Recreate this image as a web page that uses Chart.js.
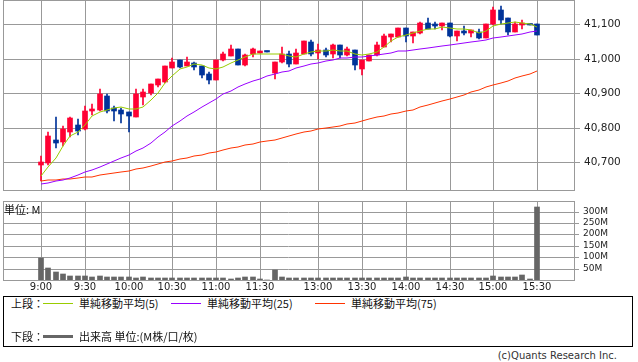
<!DOCTYPE html>
<html><head><meta charset="utf-8">
<script src="https://cdn.jsdelivr.net/npm/chart.js@4/dist/chart.umd.min.js"></script>
<style>
html,body{margin:0;padding:0;background:#fff;}
#wrap{position:relative;width:638px;height:362px;overflow:hidden;font-family:"Noto Sans CJK JP","DejaVu Sans",sans-serif;}
canvas{position:absolute;left:0;}
.t{position:absolute;white-space:nowrap;font-size:11px;line-height:12px;color:#111;}
.ln{position:absolute;height:1px;width:30px;}
</style></head><body>
<div id="wrap">
<canvas id="price" width="638" height="191" style="top:0"></canvas>
<canvas id="vol" width="638" height="95" style="top:200px"></canvas>
<div class="t" style="left:4px;top:203px">単位: M</div>
<div style="position:absolute;left:3px;top:296px;width:628px;height:49px;border:1px solid #000;"></div>
<div class="t" style="left:11px;top:297px">上段：</div>
<div class="ln" style="left:43px;top:303px;background:#99cc00"></div>
<div class="t" style="left:79px;top:297px">単純移動平均(5)</div>
<div class="ln" style="left:171px;top:303px;background:#9900ff"></div>
<div class="t" style="left:207px;top:297px">単純移動平均(25)</div>
<div class="ln" style="left:315px;top:303px;background:#ff3300"></div>
<div class="t" style="left:351px;top:297px">単純移動平均(75)</div>
<div class="t" style="left:11px;top:330px">下段：</div>
<div class="ln" style="left:43px;top:335px;height:3px;background:#666"></div>
<div class="t" style="left:79px;top:330px">出来高 単位:(M株/口/枚)</div>
<div class="t" style="right:21px;top:350px;font-family:'DejaVu Sans';font-size:10px;color:#333">(c)Quants Research Inc.</div>
</div>
<script>
const times = ['9:00','9:05','9:10','9:15','9:20','9:25','9:30','9:35','9:40','9:45','9:50','9:55','10:00','10:05','10:10','10:15','10:20','10:25','10:30','10:35','10:40','10:45','10:50','10:55','11:00','11:05','11:10','11:15','11:20','11:25','11:30','12:25','12:30','12:35','12:40','12:45','12:50','12:55','13:00','13:05','13:10','13:15','13:20','13:25','13:30','13:35','13:40','13:45','13:50','13:55','14:00','14:05','14:10','14:15','14:20','14:25','14:30','14:35','14:40','14:45','14:50','14:55','15:00','15:05','15:10','15:15','15:20','15:25','15:30'];
const xTickLabels = ['9:00','9:30','10:00','10:30','11:00','11:30','13:00','13:30','14:00','14:30','15:00','15:30'];
const priceTicks = [40700, 40800, 40900, 41000, 41100];
const volTicks = [50, 100, 150, 200, 250, 300];

const opens  = [40691,40698,40765,40758,40787,40809,40796,40848,40852,40892,40856,40852,40846,40831,40890,40902,40924,40934,40973,40995,40980,40988,40979,40956,40939,40996,41008,41027,40983,41013,41017,41022,40960,40990,41015,40986,41015,41048,41017,41025,41015,41039,41011,41025,40971,40994,41010,41035,41063,41063,41088,41065,41075,41102,41100,41094,41102,41065,41080,41075,41078,41060,41100,41140,41117,41077,41097,41100,41100];
const highs  = [40717,40789,40831,40806,40830,40826,40864,40869,40913,40898,40864,40857,40847,40913,40912,40928,40942,40980,41003,40997,41004,40991,40980,40962,40997,41019,41039,41028,41015,41031,41023,41022,40991,41035,41022,41028,41051,41054,41042,41030,41042,41040,41033,41026,40997,41011,41048,41071,41072,41089,41089,41078,41106,41119,41106,41103,41103,41081,41096,41084,41086,41101,41150,41152,41118,41106,41112,41101,41101];
const lows   = [40645,40693,40743,40746,40772,40780,40795,40836,40850,40842,40821,40814,40787,40830,40866,40895,40917,40929,40972,40973,40979,40967,40945,40928,40938,40994,41007,40982,40979,41004,41016,41019,40942,40989,40977,40985,41014,41008,40998,41004,41001,41003,41008,40967,40953,40993,41009,41034,41049,41062,41049,41046,41071,41085,41086,41083,41064,41052,41069,41063,41058,41059,41099,41100,41068,41076,41085,41097,41068];
const closes = [40701,40775,40757,40797,40829,40791,40849,40854,40898,40849,40850,40841,40833,40898,40904,40927,40941,40979,40990,40977,40990,40977,40954,40939,40996,41013,41027,40983,41010,41027,41022,41019,40990,41015,40986,41017,41050,41015,41025,41011,41039,41011,41027,40983,40996,41010,41039,41065,41071,41088,41065,41077,41102,41086,41096,41102,41065,41080,41075,41083,41060,41100,41140,41113,41077,41100,41104,41098,41069];
const ma5  = [40660,40688,40713,40746,40775,40789,40809,40833,40847,40852,40856,40859,40854,40854,40860,40881,40900,40929,40950,40969,40977,40984,40981,40972,40971,40977,40987,40996,41004,41013,41015,41015,41015,41015,41008,41006,41015,41020,41023,41023,41025,41022,41022,41015,41011,41013,41020,41035,41052,41063,41070,41075,41080,41085,41086,41092,41089,41087,41085,41083,41075,41081,41094,41100,41104,41107,41104,41100,41092];
const ma25 = [40636,40641,40645,40650,40655,40663,40671,40679,40688,40696,40704,40713,40722,40732,40743,40756,40774,40789,40806,40821,40835,40847,40860,40871,40883,40897,40908,40917,40927,40936,40942,40949,40956,40961,40965,40972,40979,40985,40988,40992,40996,41001,41003,41004,41006,41008,41010,41013,41017,41021,41023,41025,41029,41032,41035,41037,41040,41043,41046,41049,41052,41055,41060,41063,41067,41069,41072,41076,41079];
const ma75 = [40647,40648,40649,40651,40653,40655,40657,40659,40662,40665,40668,40671,40675,40680,40685,40690,40695,40700,40705,40709,40713,40718,40722,40727,40731,40736,40741,40745,40750,40754,40758,40762,40766,40771,40776,40782,40788,40792,40796,40799,40802,40806,40811,40815,40820,40825,40830,40834,40839,40843,40848,40853,40859,40866,40872,40878,40884,40890,40896,40903,40910,40917,40924,40930,40936,40943,40950,40957,40964];
const volume = [98,54,35,25,18,18,18,15,17,15,15,15,15,9,13,9,9,9,9,9,9,9,9,9,9,9,6,9,13,13,3,0,44,15,9,9,9,9,9,9,9,7,9,9,7,9,9,7,9,9,15,9,9,9,9,9,9,7,9,9,9,9,17,13,13,13,22,3,321];

const UP = '#ff0033', DOWN = '#003399', GRID = '#999999', TXT = '#222222';
const tickPos = xTickLabels.map(t => times.indexOf(t));
const candleColors = closes.map((c, i) => c >= opens[i] ? UP : DOWN);
const pts = arr => arr.map((v, i) => ({x: i, y: v}));
const noPad = ax => { ax.paddingTop = 0; ax.paddingBottom = 0; ax.paddingLeft = 0; ax.paddingRight = 0; };

const frame = {id: 'frame', beforeDatasetsDraw(c) {
  const {ctx, chartArea: a} = c; ctx.save(); ctx.strokeStyle = GRID; ctx.lineWidth = 1;
  ctx.strokeRect(Math.round(a.left) + 0.5, Math.round(a.top) + 0.5, Math.round(a.right - a.left), Math.round(a.bottom - a.top));
  ctx.restore();
}};

const xAxisBase = (showLabels, h) => ({
  type: 'linear', min: -5.24, max: 73.07, offset: false, alignToPixels: true,
  afterBuildTicks: ax => { ax.ticks = tickPos.map(v => ({value: v})); },
  afterFit: ax => { ax.height = h; noPad(ax); },
  grid: {color: GRID, drawTicks: false, lineWidth: 1, offset: false},
  border: {display: true, color: GRID},
  ticks: {display: showLabels, autoSkip: false, maxRotation: 0, padding: 1, color: TXT,
    font: {family: 'DejaVu Sans', size: 10}, callback: v => times[v]}
});

new Chart(document.getElementById('price'), {
  type: 'bar',
  data: {datasets: [
    {type: 'line', data: pts(ma5), borderColor: '#99cc00', borderWidth: 1, pointRadius: 0, tension: 0, order: 0},
    {type: 'line', data: pts(ma25), borderColor: '#9900ff', borderWidth: 1, pointRadius: 0, tension: 0, order: 0},
    {type: 'line', data: pts(ma75), borderColor: '#ff3300', borderWidth: 1, pointRadius: 0, tension: 0, order: 0},
    {type: 'bar', data: lows.map((l, i) => ({x: i, y: [l, highs[i]]})), backgroundColor: candleColors, barThickness: 1, grouped: false, order: 2},
    {type: 'bar', data: opens.map((o, i) => ({x: i, y: [o, closes[i]]})), backgroundColor: candleColors, barThickness: 5, minBarLength: 1.5, grouped: false, order: 1}
  ]},
  options: {
    responsive: false, animation: false, devicePixelRatio: 1,
    layout: {padding: {left: 3, top: 0, right: 0, bottom: 1}},
    plugins: {legend: {display: false}, tooltip: {enabled: false}},
    scales: {
      x: xAxisBase(false, 0),
      y: {position: 'right', min: 40620, max: 41170, alignToPixels: true,
        afterBuildTicks: ax => { ax.ticks = priceTicks.map(v => ({value: v})); },
        afterFit: ax => { ax.width = 64; noPad(ax); },
        grid: {color: GRID, tickLength: 6, lineWidth: 1},
        border: {display: true, color: GRID},
        ticks: {padding: 4, color: TXT, font: {family: 'DejaVu Sans', size: 10.5}, callback: v => v.toLocaleString('en-US')}
      }
    }
  },
  plugins: [frame]
});

new Chart(document.getElementById('vol'), {
  type: 'bar',
  data: {datasets: [
    {data: pts(volume), backgroundColor: '#666666', barThickness: 5}
  ]},
  options: {
    responsive: false, animation: false, devicePixelRatio: 1,
    layout: {padding: {left: 3, top: 1, right: 0, bottom: 0}},
    plugins: {legend: {display: false}, tooltip: {enabled: false}},
    scales: {
      x: xAxisBase(true, 15),
      y: {position: 'right', min: 0, max: 346, alignToPixels: true,
        afterBuildTicks: ax => { ax.ticks = volTicks.map(v => ({value: v})); },
        afterFit: ax => { ax.width = 64; noPad(ax); },
        grid: {color: GRID, tickLength: 5, lineWidth: 1},
        border: {display: true, color: GRID},
        ticks: {padding: 4, color: TXT, font: {family: 'DejaVu Sans', size: 9}, autoSkip: false, callback: v => v + 'M'}
      }
    }
  },
  plugins: [frame]
});
</script>
</body></html>
